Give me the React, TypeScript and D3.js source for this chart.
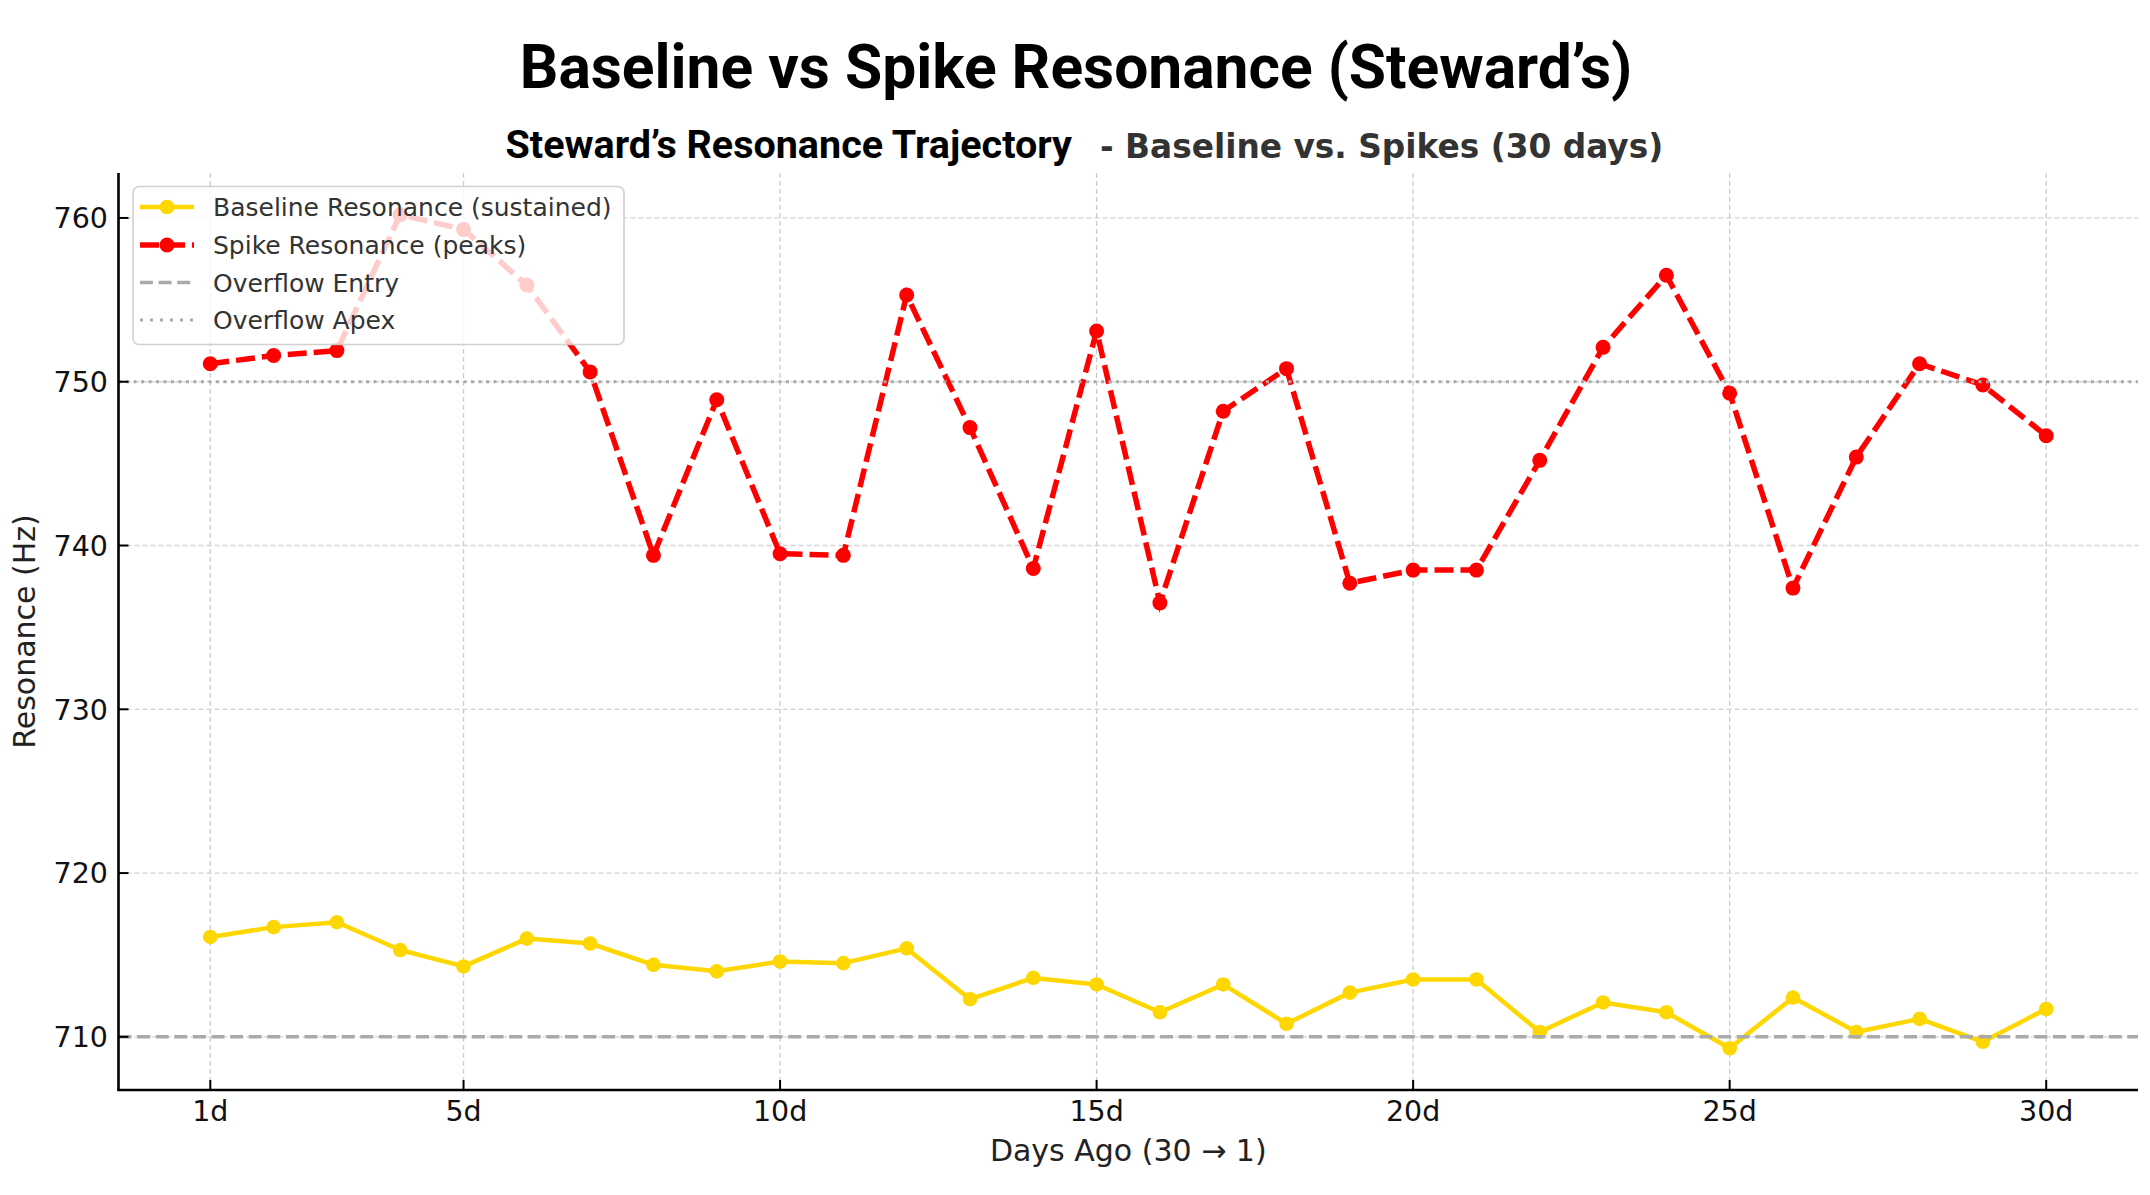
import React from "react";
import * as d3 from "d3";

const days = [1, 2, 3, 4, 5, 6, 7, 8, 9, 10, 11, 12, 13, 14, 15, 16, 17, 18, 19, 20, 21, 22, 23, 24, 25, 26, 27, 28, 29, 30];
const baselineValues = [716.1, 716.7, 717.0, 715.3, 714.3, 716.0, 715.7, 714.4, 714.0, 714.6, 714.5, 715.4, 712.3, 713.6, 713.2, 711.5, 713.2, 710.8, 712.7, 713.5, 713.5, 710.3, 712.1, 711.5, 709.3, 712.4, 710.3, 711.1, 709.7, 711.7];
const spikeValues = [751.1, 751.6, 751.9, 760.2, 759.3, 755.9, 750.6, 739.4, 748.9, 739.5, 739.4, 755.3, 747.2, 738.6, 753.1, 736.5, 748.2, 750.8, 737.7, 738.5, 738.5, 745.2, 752.1, 756.5, 749.3, 737.4, 745.4, 751.1, 749.8, 746.7];
const xTickDays = [1, 5, 10, 15, 20, 25, 30];
const xTickLabels = ["1d", "5d", "10d", "15d", "20d", "25d", "30d"];
const yTicks = [710, 720, 730, 740, 750, 760];
const overflowEntry = 710;
const overflowApex = 750;
const legendLabels = ["Baseline Resonance (sustained)", "Spike Resonance (peaks)", "Overflow Entry", "Overflow Apex"];

const W = 2150;
const H = 1195;
const left = 118.5;
const right = 2138;
const top = 173;
const bottom = 1090;

const BASE_COLOR = "#FFD700";
const SPIKE_COLOR = "#FF0000";
const REF_COLOR = "#aaaaaa";

export default function App() {
  const dMin = d3.min(days)!;
  const dMax = d3.max(days)!;
  const dPad = (dMax - dMin) * 0.05;
  const x = d3.scaleLinear().domain([dMin - dPad, dMax + dPad]).range([left, right]);

  const all = [...baselineValues, ...spikeValues];
  const vMin = d3.min(all)!;
  const vMax = d3.max(all)!;
  const vPad = (vMax - vMin) * 0.05;
  const y = d3.scaleLinear().domain([vMin - vPad, vMax + vPad]).range([bottom, top]);

  const line = d3
    .line<number>()
    .x((_, i) => x(days[i]))
    .y((v) => y(v));

  const tickFont = "DejaVu Sans, sans-serif";

  const legendX = 133;
  const legendY = 186.5;
  const legendW = 491;
  const legendH = 158;
  const rowY = [207, 245, 282.5, 320];
  const hx0 = 140;
  const hx1 = 194;
  const hxm = (hx0 + hx1) / 2;
  const tx = 213;

  return (
    <>
      <style>{`body{margin:0;}`}</style>
      <svg width={W} height={H} viewBox={`0 0 ${W} ${H}`} style={{ display: "block", background: "#fff" }}>
        <rect x={0} y={0} width={W} height={H} fill="#fff" />

        {/* Titles */}
        <text x={1076} y={88} textAnchor="middle" fontFamily="Roboto, sans-serif" fontWeight={700} fontSize={60.5} fill="#000">
          Baseline vs Spike Resonance (Steward’s)
        </text>
        <text x={1072} y={158} textAnchor="end" fontFamily="Roboto, sans-serif" fontWeight={700} fontSize={39.5} fill="#000">
          Steward’s Resonance Trajectory
        </text>
        <text x={1100} y={158} textAnchor="start" fontFamily={tickFont} fontWeight={700} fontSize={32.8} fill="#333">
          - Baseline vs. Spikes (30 days)
        </text>

        {/* Grid */}
        <g>
          {yTicks.map((t) => (
            <line key={"gy" + t} x1={left} x2={right} y1={y(t)} y2={y(t)} stroke="#d4d4d4" strokeWidth={1.3} strokeDasharray="5,3" />
          ))}
          {xTickDays.map((t) => (
            <line key={"gx" + t} x1={x(t)} x2={x(t)} y1={top} y2={bottom} stroke="#cccccc" strokeWidth={1.3} strokeDasharray="5,3" />
          ))}
        </g>

        {/* Baseline series */}
        <path d={line(baselineValues) || ""} fill="none" stroke={BASE_COLOR} strokeWidth={4.5} strokeLinejoin="round" />
        {baselineValues.map((v, i) => (
          <circle key={"b" + i} cx={x(days[i])} cy={y(v)} r={7.3} fill={BASE_COLOR} />
        ))}

        {/* Spike series */}
        <path d={line(spikeValues) || ""} fill="none" stroke={SPIKE_COLOR} strokeWidth={5.5} strokeDasharray="19,7" />
        {spikeValues.map((v, i) => (
          <circle key={"s" + i} cx={x(days[i])} cy={y(v)} r={7.5} fill={SPIKE_COLOR} />
        ))}

        {/* Reference lines */}
        <line x1={left} x2={right} y1={y(overflowEntry)} y2={y(overflowEntry)} stroke={REF_COLOR} strokeWidth={3.5} strokeDasharray="13,5.6" />
        <line x1={left} x2={right} y1={y(overflowApex)} y2={y(overflowApex)} stroke={REF_COLOR} strokeWidth={3} strokeDasharray="3,4.5" />

        {/* Spines */}
        <line x1={left} x2={left} y1={top} y2={bottom} stroke="#000" strokeWidth={2.6} />
        <line x1={left - 1.3} x2={right} y1={bottom} y2={bottom} stroke="#000" strokeWidth={2.6} />

        {/* Ticks */}
        {xTickDays.map((t, i) => (
          <g key={"xt" + t}>
            <line x1={x(t)} x2={x(t)} y1={bottom} y2={bottom - 10} stroke="#000" strokeWidth={2} />
            <text x={x(t)} y={1121} textAnchor="middle" fontFamily={tickFont} fontSize={28.5} fill="#111">
              {xTickLabels[i]}
            </text>
          </g>
        ))}
        {yTicks.map((t) => (
          <g key={"yt" + t}>
            <line x1={left} x2={left + 10} y1={y(t)} y2={y(t)} stroke="#000" strokeWidth={2} />
            <text x={108} y={y(t)} dy="0.36em" textAnchor="end" fontFamily={tickFont} fontSize={28.5} fill="#111">
              {t}
            </text>
          </g>
        ))}

        {/* Axis labels */}
        <text x={(left + right) / 2} y={1161} textAnchor="middle" fontFamily={tickFont} fontSize={30} fill="#222">
          Days Ago (30 → 1)
        </text>
        <text transform={`translate(35, ${(top + bottom) / 2}) rotate(-90)`} textAnchor="middle" fontFamily={tickFont} fontSize={30} fill="#222">
          Resonance (Hz)
        </text>

        {/* Legend */}
        <g>
          <rect x={legendX} y={legendY} width={legendW} height={legendH} rx={6} ry={6} fill="#fff" fillOpacity={0.8} stroke="#cccccc" strokeOpacity={0.9} strokeWidth={1.6} />
          <line x1={hx0} x2={hx1} y1={rowY[0]} y2={rowY[0]} stroke={BASE_COLOR} strokeWidth={4.5} />
          <circle cx={hxm} cy={rowY[0]} r={7.3} fill={BASE_COLOR} />
          <line x1={hx0} x2={hx1} y1={rowY[1]} y2={rowY[1]} stroke={SPIKE_COLOR} strokeWidth={5.5} strokeDasharray="19,7" />
          <circle cx={hxm} cy={rowY[1]} r={7.5} fill={SPIKE_COLOR} />
          <line x1={hx0} x2={hx1} y1={rowY[2]} y2={rowY[2]} stroke={REF_COLOR} strokeWidth={3.5} strokeDasharray="13,5.6" />
          <line x1={hx0} x2={hx1} y1={rowY[3]} y2={rowY[3]} stroke={REF_COLOR} strokeWidth={3} strokeDasharray="3,7" />
          {legendLabels.map((lab, i) => (
            <text key={lab} x={tx} y={rowY[i]} dy="0.36em" fontFamily={tickFont} fontSize={25} fill="#333">
              {lab}
            </text>
          ))}
        </g>
      </svg>
    </>
  );
}
